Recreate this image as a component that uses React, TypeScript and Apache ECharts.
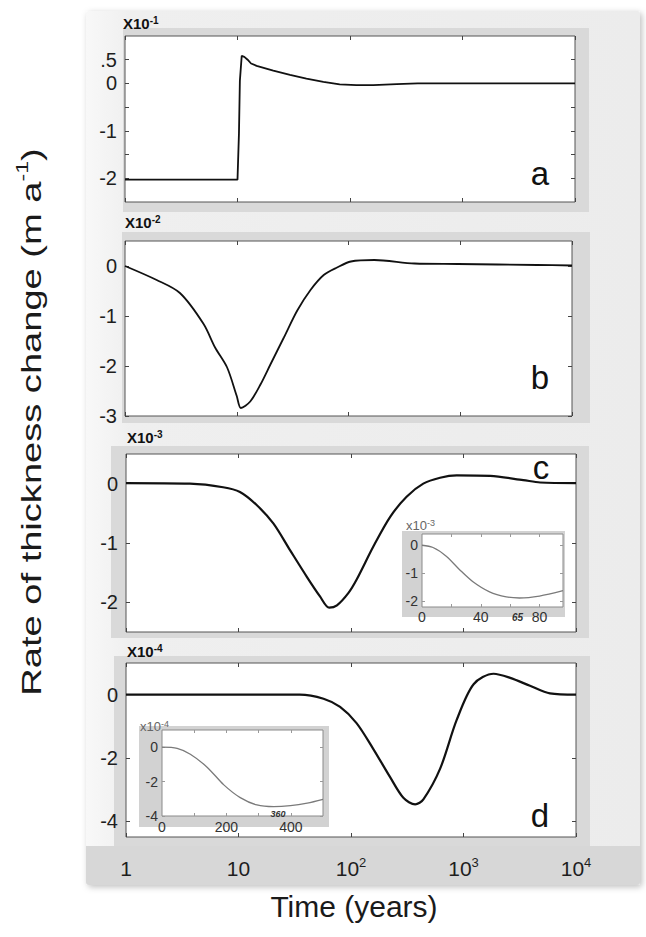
import React, { useEffect, useRef } from 'react';
import * as echarts from 'echarts';

const FONT = '"Liberation Sans", Arial, Helvetica, sans-serif';

// ---- data (values in the panel's own scale, i.e. multiplied by 10^n) ----
// panel a (x10^-1)
const aTime = [1, 10.0, 10.3, 10.5, 10.9, 11.5, 12.3, 13.2, 14.8, 20.8, 29.3, 41, 58, 81, 114, 161, 260, 400, 10000];
const aRate = [-2.03, -2.03, -1.06, 0.06, 0.58, 0.56, 0.5, 0.42, 0.37, 0.27, 0.18, 0.1, 0.035, -0.02, -0.035, -0.035, -0.015, 0, 0];
// panel b (x10^-2)
const bTime = [1, 1.92, 3.1, 5.05, 6.4, 8.2, 10.0, 10.9, 13.2, 16.3, 20, 26.4, 34.8, 45.7, 60, 79, 105, 170, 390, 950, 4900, 10000];
const bRate = [0, -0.28, -0.54, -1.16, -1.63, -2.03, -2.6, -2.84, -2.71, -2.37, -1.97, -1.43, -0.89, -0.48, -0.18, -0.03, 0.09, 0.12, 0.05, 0.04, 0.02, 0.01];
// panel c (x10^-3)
const cTime = [1, 3.7, 7.3, 10.3, 14.5, 20.4, 28.7, 40.5, 53, 64, 75, 95, 112, 158, 223, 312, 439, 619, 870, 1730, 3400, 4800, 10000];
const cRate = [0.01, 0, -0.06, -0.14, -0.36, -0.67, -1.12, -1.57, -1.9, -2.09, -2.05, -1.84, -1.62, -1.06, -0.56, -0.22, 0, 0.1, 0.14, 0.13, 0.06, 0.02, 0.01];
// panel d (x10^-4)
const dTime = [1, 35, 57, 80, 112, 158, 222, 292, 372, 440, 620, 870, 1230, 1850, 2600, 3900, 5870, 10000];
const dRate = [0, 0, -0.13, -0.39, -0.9, -1.72, -2.6, -3.26, -3.47, -3.31, -2.34, -0.8, 0.33, 0.66, 0.53, 0.28, 0.04, 0];
// inset of c (linear years, x10^-3)
const icTime = [0, 7.5, 16.5, 25.6, 34.7, 46, 57.4, 66.4, 80, 96];
const icRate = [0, -0.08, -0.39, -0.87, -1.3, -1.66, -1.84, -1.88, -1.81, -1.62];
// inset of d (linear years, x10^-4)
const idTime = [0, 47, 88, 140, 192, 243, 295, 347, 399, 451, 500];
const idRate = [0, -0.07, -0.41, -1.16, -2.19, -2.93, -3.36, -3.46, -3.4, -3.25, -3.03];

// ---- tick labels ----
const timeTicks = [1, 10, 100, 1000, 10000];
const timeTickLabels = ['1', '10', '10{sup|2}', '10{sup|3}', '10{sup|4}'];
const aTickVals = [-2, -1.5, -1, -0.5, 0, 0.5];
const aLabelVals = [-2, -1, 0, 0.5];
const bTickVals = [-3, -2, -1, 0];
const cTickVals = [-2, -1, 0];
const dTickVals = [-4, -2, 0];
const icXLabels = [0, 40, 80];
const icXTicks = [20, 40, 60, 80];
const icYLabels = [-2, -1, 0];
const idXLabels = [0, 200, 400];
const idXTicks = [100, 200, 300, 400];
const idYLabels = [-4, -2, 0];
const icMarkedMin = 65;
const idMarkedMin = 360;

const zip = (x: number[], y: number[]) => x.map((v, i) => [v, y[i]]);

export default function App() {
  const ref = useRef<HTMLDivElement>(null);
  useEffect(() => {
    const chart = echarts.init(ref.current!, null, { renderer: 'svg', width: 646, height: 937 });
    const tick = { color: '#444', width: 1 };
    const grids: any[] = [
      { left: 125, top: 36, width: 450, height: 166 },
      { left: 125, top: 241, width: 447, height: 175 },
      { left: 126, top: 454, width: 450, height: 178 },
      { left: 126, top: 663, width: 450, height: 174 },
      { left: 422, top: 534, width: 141, height: 73 },
      { left: 162, top: 730, width: 161, height: 86 },
    ].map((g, i) => ({
      ...g,
      show: true,
      backgroundColor: '#fff',
      borderColor: i < 4 ? '#555' : '#8a8a8a',
      borderWidth: 1,
      z: i < 4 ? 2 : 5,
    }));

    const xAxis: any[] = [];
    const yAxis: any[] = [];
    const series: any[] = [];

    const addMain = (gi: number, yMin: number, yMax: number, yTicks: number[], yLabels: number[],
      fmt: (v: number) => string, showX: boolean, data: number[][], lw: number) => {
      const xi = xAxis.length;
      const xBase = {
        type: 'log', logBase: 10, gridIndex: gi, min: 1, max: 10000, splitNumber: 4, z: 3,
        axisLine: { show: false, onZero: false }, splitLine: { show: false },
        axisTick: { show: true, inside: true, length: 4, lineStyle: tick },
      };
      xAxis.push({
        ...xBase, position: 'bottom',
        axisLabel: showX ? {
          show: true, fontSize: 21, lineHeight: 24, margin: 19, color: '#1e1e1e', fontFamily: FONT,
          formatter: (v: number) => {
            const idx = timeTicks.findIndex((t) => Math.abs(Math.log10(t) - Math.log10(v)) < 1e-6);
            return idx >= 0 ? timeTickLabels[idx] : '';
          },
          rich: { sup: { fontSize: 13, lineHeight: 13, verticalAlign: 'top', color: '#1e1e1e', fontFamily: FONT } },
        } : { show: false },
      });
      xAxis.push({ ...xBase, position: 'top', axisLabel: { show: false } });
      const yi = yAxis.length;
      const yBase = {
        type: 'value', gridIndex: gi, min: yMin, max: yMax, z: 3,
        axisLine: { show: false, onZero: false }, splitLine: { show: false },
        axisTick: { show: true, inside: true, length: 4, customValues: yTicks, lineStyle: tick },
      };
      yAxis.push({
        ...yBase, position: 'left',
        axisLabel: { show: true, customValues: yLabels, formatter: fmt, fontSize: 20, color: '#1e1e1e', margin: 8, fontFamily: FONT },
      });
      yAxis.push({ ...yBase, position: 'right', axisLabel: { show: false } });
      series.push({
        type: 'line', xAxisIndex: xi, yAxisIndex: yi, data, symbol: 'none', smooth: gi === 0 ? false : 0.3,
        lineStyle: { color: '#111', width: lw }, z: 3, silent: true,
      });
    };

    const plain = (v: number) => String(v);
    addMain(0, -2.5, 1, aTickVals, aLabelVals, (v) => (v === 0.5 ? '.5' : String(v)), false, zip(aTime, aRate), 1.8);
    addMain(1, -3, 0.5, bTickVals, bTickVals, plain, false, zip(bTime, bRate), 1.8);
    addMain(2, -2.5, 0.5, cTickVals, cTickVals, plain, false, zip(cTime, cRate), 2.2);
    addMain(3, -4.5, 1, dTickVals, dTickVals, plain, true, zip(dTime, dRate), 2.2);

    const addInset = (gi: number, xMax: number, yMin: number, yMax: number, xLabels: number[], xTicks: number[],
      yLabels: number[], marked: number, labelMargin: number, markMargin: number, markSize: number, data: number[][]) => {
      const xi = xAxis.length;
      const xBase = {
        type: 'value', gridIndex: gi, min: 0, max: xMax, z: 6,
        axisLine: { show: false, onZero: false }, splitLine: { show: false },
        axisTick: { show: true, inside: true, length: 3, customValues: xTicks, lineStyle: { color: '#999' } },
      };
      xAxis.push({
        ...xBase, position: 'bottom',
        axisLabel: {
          show: true, customValues: xLabels, fontSize: 14, color: '#333', margin: labelMargin, fontFamily: FONT, formatter: plain,
        },
      });
      xAxis.push({ ...xBase, position: 'top', axisLabel: { show: false } });
      // separate axis that only carries the marked minimum label
      xAxis.push({
        ...xBase, position: 'bottom', axisTick: { show: false },
        axisLabel: {
          show: true, customValues: [marked], fontSize: markSize, fontStyle: 'italic', fontWeight: 'bold', color: '#333',
          margin: markMargin, fontFamily: FONT, formatter: plain,
        },
      });
      const yi = yAxis.length;
      const yBase = {
        type: 'value', gridIndex: gi, min: yMin, max: yMax, z: 6,
        axisLine: { show: false, onZero: false }, splitLine: { show: false },
        axisTick: { show: true, inside: true, length: 3, customValues: yLabels, lineStyle: { color: '#999' } },
      };
      yAxis.push({
        ...yBase, position: 'left',
        axisLabel: { show: true, customValues: yLabels, formatter: plain, fontSize: 14, color: '#333', margin: 4, fontFamily: FONT },
      });
      yAxis.push({ ...yBase, position: 'right', axisLabel: { show: false } });
      series.push({
        type: 'line', xAxisIndex: xi, yAxisIndex: yi, data, symbol: 'none', smooth: 0.3,
        lineStyle: { color: '#7a7a7a', width: 1.3 }, z: 6, silent: true,
      });
    };
    addInset(4, 96, -2.2, 0.4, icXLabels, icXTicks, icYLabels, icMarkedMin, 3, 5, 10, zip(icTime, icRate));
    addInset(5, 500, -4, 1, idXLabels, idXTicks, idYLabels, idMarkedMin, 4, -7, 9, zip(idTime, idRate));

    const frame = (x: number, y: number, w: number, h: number, fill: string, z: number) => ({
      type: 'rect', z, silent: true, shape: { x, y, width: w, height: h }, style: { fill },
    });
    const sci = (x: number, y: number, exp: string, big: boolean) => ({
      type: 'text', z: 10, silent: true,
      style: {
        x, y, text: `{m|${big ? 'X' : 'x'}10}{s|${exp}}`, textAlign: 'left', textVerticalAlign: 'middle',
        rich: big ? {
          m: { fontSize: 15, fontWeight: 'bold', fontFamily: FONT, fill: '#111', lineHeight: 16 },
          s: { fontSize: 10, fontWeight: 'bold', fontFamily: FONT, fill: '#111', verticalAlign: 'top', lineHeight: 10 },
        } : {
          m: { fontSize: 13, fontFamily: FONT, fill: '#666', lineHeight: 14 },
          s: { fontSize: 9, fontFamily: FONT, fill: '#666', verticalAlign: 'top', lineHeight: 9 },
        },
      },
    });
    const letter = (x: number, y: number, t: string) => ({
      type: 'text', z: 10, silent: true,
      style: { x, y, text: t, fontSize: 33, fontFamily: FONT, fill: '#111', textAlign: 'center', textVerticalAlign: 'middle' },
    });

    const graphic: any[] = [
      {
        type: 'rect', z: 0, silent: true, shape: { x: 86, y: 11, width: 554, height: 874, r: 3 },
        style: {
          fill: new echarts.graphic.LinearGradient(0, 0, 1, 0, [
            { offset: 0, color: '#f8f8f8' }, { offset: 0.08, color: '#efefef' }, { offset: 1, color: '#ececec' },
          ]),
          shadowBlur: 6, shadowColor: 'rgba(0,0,0,0.25)', shadowOffsetX: 2, shadowOffsetY: 2,
        },
      },
      frame(123, 28, 466, 184, '#d9d9d9', 1),
      frame(122, 232, 468, 191, '#d9d9d9', 1),
      frame(111, 446, 478, 192, '#d9d9d9', 1),
      frame(114, 656, 476, 190, '#d9d9d9', 1),
      { type: 'rect', z: 1, silent: true, shape: { x: 86, y: 846, width: 554, height: 39, r: [0, 0, 3, 3] }, style: { fill: '#d7d7d7' } },
      frame(402, 531, 163, 86, '#d2d2d2', 4),
      frame(139, 726, 190, 101, '#d2d2d2', 4),
      sci(123, 23, '-1', true),
      sci(125, 222, '-2', true),
      sci(127, 437, '-3', true),
      sci(127, 651, '-4', true),
      sci(406, 525, '-3', false),
      sci(140, 726, '-4', false),
      letter(540, 173, 'a'),
      letter(540, 377, 'b'),
      letter(541, 467, 'c'),
      letter(540, 815, 'd'),
      {
        type: 'text', z: 10, silent: true, x: 31, y: 422, rotation: Math.PI / 2, scaleX: 1.36,
        style: {
          x: 0, y: 0, text: 'Rate of thickness change (m a{s|-1})', fontSize: 28, lineHeight: 34, fontFamily: FONT,
          fill: '#1a1a1a', textAlign: 'center', textVerticalAlign: 'middle',
          rich: { s: { fontSize: 17, lineHeight: 17, verticalAlign: 'top', fontFamily: FONT, fill: '#1a1a1a' } },
        },
      },
      {
        type: 'text', z: 10, silent: true,
        style: { x: 354, y: 906, text: 'Time (years)', fontSize: 30, fontFamily: FONT, fill: '#1a1a1a', textAlign: 'center', textVerticalAlign: 'middle' },
      },
    ];

    chart.setOption({ animation: false, backgroundColor: '#fff', grid: grids, xAxis, yAxis, series, graphic });
    return () => chart.dispose();
  }, []);
  return <div ref={ref} style={{ position: 'absolute', left: 0, top: 0, width: 646, height: 937 }} />;
}
